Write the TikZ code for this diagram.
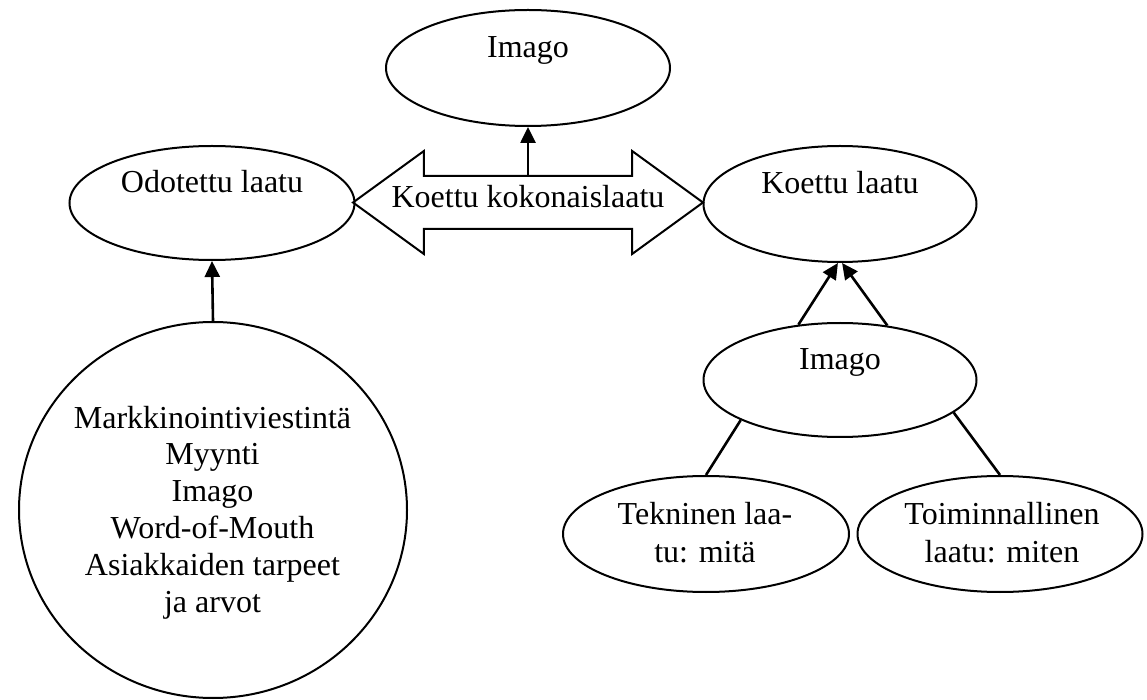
\documentclass[tikz,border=0pt]{standalone}
\usepackage{fontspec}
\setmainfont{Liberation Serif}
\usetikzlibrary{positioning,shapes.geometric,shapes.arrows,arrows.meta}
\tikzset{
  oval/.style={ellipse,draw,line width=1pt,inner sep=0pt},
  txt/.style={inner sep=0pt,align=center,font=\fontsize{16pt}{19pt}\selectfont},
  bigarrow/.style={double arrow,draw,line width=1pt,minimum height=175pt,
    double arrow head extend=12.5pt,double arrow tip angle=72,
    inner xsep=0pt,inner ysep=7pt,text height=8.5pt,text depth=3pt,
    font=\fontsize{16pt}{19pt}\selectfont},
  pil/.style={line width=1.3pt,-{Triangle[length=8pt,width=7.5pt]}},
  link/.style={line width=1.3pt}
}

\begin{document}
\begin{tikzpicture}[x=0.5pt,y=-0.5pt]
  \useasboundingbox (0,0) rectangle (1147,700);
  \node[oval,minimum width=142pt,minimum height=58pt] (imagoA) at (528,68) {};
  \node[txt,anchor=base] (imagoAtxt) at (528,58) {Imago};
  \node[oval,minimum width=142.5pt,minimum height=57pt] (odotettu) at (212,203) {};
  \node[txt,anchor=base] (odotettutxt) at (212,193) {Odotettu laatu};
  \node[oval,minimum width=136.5pt,minimum height=58pt] (koettu) at (840,204) {};
  \node[txt,anchor=base] (koettutxt) at (840,194) {Koettu laatu};
  \node[bigarrow] (kok) at (528,202.5) {Koettu kokonaislaatu};
  \coordinate (koktop) at ([yshift=12.75pt]kok.center);
  \node[oval,minimum width=194pt,minimum height=188pt] (tekijat) at (213,510) {};
  \node[txt,anchor=base,font=\fontsize{16pt}{18.4pt}\selectfont] (tekijattxt) at (212.5,612)
    {Markkinointiviestintä\\Myynti\\Imago\\Word-of-Mouth\\Asiakkaiden tarpeet\\ja arvot};
  \node[oval,minimum width=136.5pt,minimum height=57pt] (imagoB) at (840,380) {};
  \node[txt,anchor=base] (imagoBtxt) at (840,370) {Imago};
  \node[oval,minimum width=143pt,minimum height=58pt] (tekninen) at (706,534) {};
  \node[txt,anchor=base] (tekninentxt) at (705,562) {Tekninen laa-\\tu: mitä};
  \node[oval,minimum width=142.5pt,minimum height=58pt] (toiminnallinen) at (1000,534) {};
  \node[txt,anchor=base] (toiminnallinentxt) at (1002,562) {Toiminnallinen\\laatu: miten};

  \draw[pil] (koktop) -- (imagoA.south);
  \draw[pil] (tekijat.north) -- (odotettu.south);
  \draw[pil] (imagoB.127) -- (koettu.268);
  \draw[pil] (imagoB.49) -- (koettu.272);
  \draw[link] (imagoB.202) -- (tekninen.north);
  \draw[link] (imagoB.344) -- (toiminnallinen.north);
\end{tikzpicture}
\end{document}
